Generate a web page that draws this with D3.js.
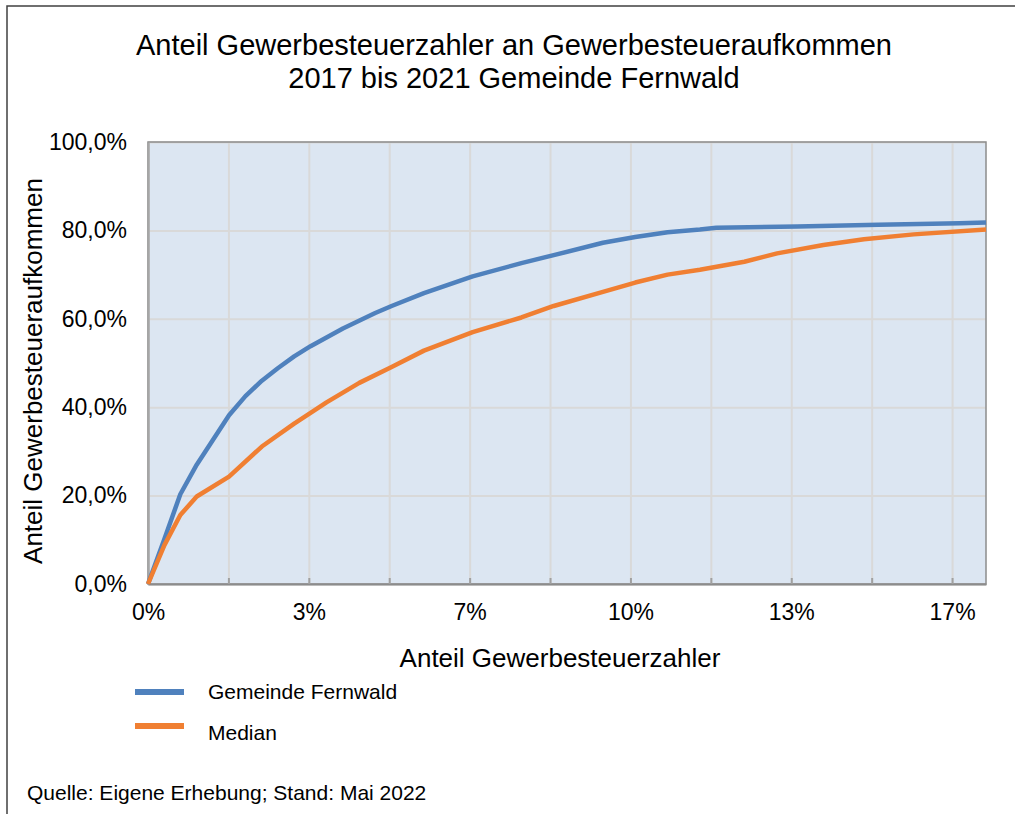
<!DOCTYPE html>
<html><head><meta charset="utf-8">
<script src="https://cdn.jsdelivr.net/npm/d3@7"></script>
<style>
html,body{margin:0;padding:0;background:#fff;}
svg{display:block;font-family:"Liberation Sans",Arial,sans-serif;}
</style></head>
<body><svg id="c" width="1015" height="814"></svg>
<script>
// ---- data (values in percent) ----
const titleLines = ["Anteil Gewerbesteuerzahler an Gewerbesteueraufkommen", "2017 bis 2021 Gemeinde Fernwald"];
const seriesNames = ["Gemeinde Fernwald", "Median"];
const fernwaldX = [0, 0.34, 0.67, 1.01, 1.68, 2.02, 2.36, 2.69, 3.03, 3.37, 4.04, 4.71, 5.05, 5.72, 6.73, 7.74, 8.41, 9.43, 10.10, 10.77, 11.44, 11.78, 13.46, 15.14, 16.82, 17.37];
const fernwaldY = [0, 10.2, 20.3, 27.0, 38.2, 42.5, 46.0, 48.8, 51.5, 53.8, 57.8, 61.3, 62.9, 65.8, 69.6, 72.6, 74.4, 77.2, 78.5, 79.6, 80.2, 80.6, 80.9, 81.3, 81.6, 81.8];
const medianX = [0, 0.34, 0.67, 1.01, 1.68, 2.36, 3.03, 3.37, 3.70, 4.38, 5.05, 5.72, 6.73, 7.74, 8.41, 9.43, 10.10, 10.77, 11.44, 12.36, 13.04, 14.00, 14.84, 15.87, 17.37];
const medianY = [0, 8.8, 15.6, 19.8, 24.3, 31.1, 36.3, 38.7, 41.1, 45.5, 49.1, 52.8, 57.0, 60.3, 62.9, 66.1, 68.2, 70.0, 71.1, 72.9, 74.8, 76.7, 78.0, 79.1, 80.2];
const xMax = 17.37;
const xTickStep = 100 / 60;      // 1,67 %
const yTicks = [0, 20, 40, 60, 80, 100];
const xAxisTitle = "Anteil Gewerbesteuerzahler";
const yAxisTitle = "Anteil Gewerbesteueraufkommen";
const sourceText = "Quelle: Eigene Erhebung; Stand: Mai 2022";
const colors = ["#4f81bd", "#f07f32"];

// ---- layout ----
const svg = d3.select("#c");
const L = 148, R = 986, T = 142, B = 584;
const x = d3.scaleLinear().domain([0, xMax]).range([L, R]);
const y = d3.scaleLinear().domain([0, 100]).range([B, T]);

// outer frame
svg.append("rect").attr("x", 7).attr("y", 6).attr("width", 1020).attr("height", 820)
  .attr("fill", "none").attr("stroke", "#404040").attr("stroke-width", 1.5);

// title
svg.append("g").selectAll("text").data(titleLines).join("text")
  .attr("x", 514).attr("y", (d, i) => 55 + i * 33)
  .attr("text-anchor", "middle").attr("font-size", 29).attr("fill", "#000").text(d => d);

// plot background
svg.append("rect").attr("x", L).attr("y", T).attr("width", R - L).attr("height", B - T).attr("fill", "#dce6f2");

const xTickVals = d3.range(0, xMax, xTickStep);

// gridlines
svg.append("g").call(d3.axisBottom(x).tickValues(xTickVals).tickSize(-(B - T)).tickFormat(""))
  .attr("transform", `translate(0,${B})`)
  .call(g => g.select(".domain").remove())
  .call(g => g.selectAll("line").attr("stroke", "#d9d9d9").attr("stroke-width", 2));
svg.append("g").call(d3.axisLeft(y).tickValues(yTicks).tickSize(-(R - L)).tickFormat(""))
  .attr("transform", `translate(${L},0)`)
  .call(g => g.select(".domain").remove())
  .call(g => g.selectAll("line").attr("stroke", "#d9d9d9").attr("stroke-width", 2));

// plot border
svg.append("rect").attr("x", L).attr("y", T).attr("width", R - L).attr("height", B - T)
  .attr("fill", "none").attr("stroke", "#8c8c8c").attr("stroke-width", 1.5);

// x axis inner ticks + labels
const xa = svg.append("g").attr("transform", `translate(0,${B})`)
  .call(d3.axisBottom(x).tickValues(xTickVals).tickSizeInner(-6).tickSizeOuter(0)
    .tickFormat((d, i) => i % 2 === 0 ? d3.format(".0f")(d) + "%" : ""));
xa.select(".domain").attr("stroke", "#8c8c8c").attr("stroke-width", 2);
xa.selectAll("line").attr("stroke", "#a0a0a0").attr("stroke-width", 2);
xa.selectAll("text").attr("font-size", 23).attr("fill", "#000").attr("dy", null).attr("y", 36)
  .attr("font-family", "Liberation Sans, Arial, sans-serif");

// y axis labels
const ya = svg.append("g").attr("transform", `translate(${L},0)`)
  .call(d3.axisLeft(y).tickValues(yTicks).tickSize(0).tickPadding(21)
    .tickFormat(d => d.toFixed(1).replace(".", ",") + "%"));
ya.select(".domain").attr("stroke", "#a6a6a6").attr("stroke-width", 2.5);
ya.selectAll("text").attr("font-size", 23).attr("fill", "#000")
  .attr("font-family", "Liberation Sans, Arial, sans-serif");

// lines
const line = d3.line().x(d => x(d[0])).y(d => y(d[1]));
const series = [d3.zip(fernwaldX, fernwaldY), d3.zip(medianX, medianY)];
svg.append("g").selectAll("path").data(series).join("path")
  .attr("d", line).attr("fill", "none")
  .attr("stroke", (d, i) => colors[i]).attr("stroke-width", 4.5)
  .attr("stroke-linejoin", "round").attr("stroke-linecap", "butt");

// axis titles
svg.append("text").attr("x", 560).attr("y", 667).attr("text-anchor", "middle")
  .attr("font-size", 26).attr("fill", "#000").text(xAxisTitle);
svg.append("text").attr("transform", "translate(42,371) rotate(-90)").attr("text-anchor", "middle")
  .attr("font-size", 26).attr("fill", "#000").text(yAxisTitle);

// legend
const lg = svg.append("g").selectAll("g").data(seriesNames).join("g");
lg.append("line").attr("x1", 135).attr("x2", 184)
  .attr("y1", (d, i) => 692 + i * 34).attr("y2", (d, i) => 692 + i * 34)
  .attr("stroke", (d, i) => colors[i]).attr("stroke-width", 6);
lg.append("text").attr("x", 208).attr("y", (d, i) => 699 + i * 41)
  .attr("font-size", 21).attr("fill", "#000").text(d => d);

// source
svg.append("text").attr("x", 27).attr("y", 800).attr("font-size", 21).attr("fill", "#000").text(sourceText);
</script>
</body></html>
